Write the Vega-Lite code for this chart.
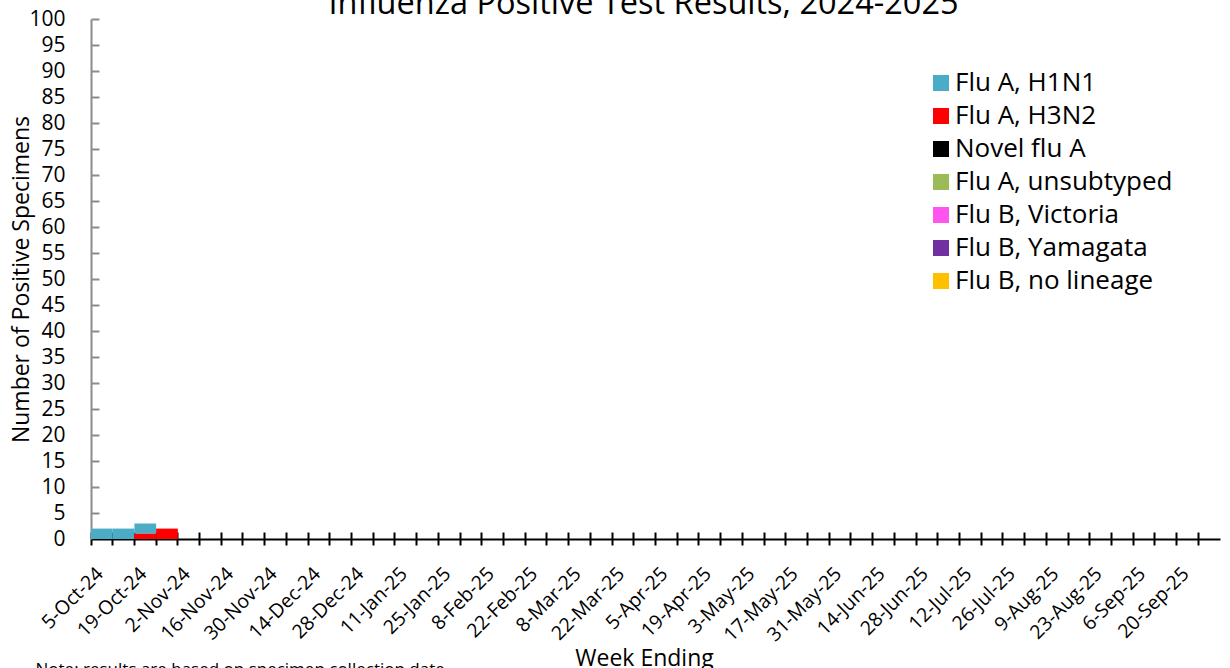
{
  "$schema": "https://vega.github.io/schema/vega-lite/v6.json",
  "autosize": "none",
  "width": 1129,
  "height": 520,
  "padding": {"left": 91, "top": 19, "right": 10, "bottom": 129},
  "background": "white",
  "title": {
    "text": "Influenza Positive Test Results, 2024-2025",
    "font": "Open Sans",
    "fontSize": 32.5,
    "fontWeight": "normal",
    "color": "black",
    "anchor": "middle",
    "frame": "group",
    "baseline": "alphabetic",
    "offset": -38,
    "dx": -12
  },
  "data": {
    "values": [
      {"week": "5-Oct-24", "type": "Flu A, H1N1", "count": 2},
      {"week": "12-Oct-24", "type": "Flu A, H1N1", "count": 2},
      {"week": "19-Oct-24", "type": "Flu A, H1N1", "count": 2},
      {"week": "19-Oct-24", "type": "Flu A, H3N2", "count": 1},
      {"week": "26-Oct-24", "type": "Flu A, H3N2", "count": 2}
    ]
  },
  "resolve": {"axis": {"x": "independent", "y": "independent"}},
  "layer": [
    {
      "mark": {"type": "bar"},
      "encoding": {
        "x": {
          "field": "week",
          "type": "ordinal",
          "sort": null,
          "scale": {
            "type": "band",
            "paddingInner": 0,
            "paddingOuter": 0,
            "domain": ["5-Oct-24","12-Oct-24","19-Oct-24","26-Oct-24","2-Nov-24","9-Nov-24","16-Nov-24","23-Nov-24","30-Nov-24","7-Dec-24","14-Dec-24","21-Dec-24","28-Dec-24","4-Jan-25","11-Jan-25","18-Jan-25","25-Jan-25","1-Feb-25","8-Feb-25","15-Feb-25","22-Feb-25","1-Mar-25","8-Mar-25","15-Mar-25","22-Mar-25","29-Mar-25","5-Apr-25","12-Apr-25","19-Apr-25","26-Apr-25","3-May-25","10-May-25","17-May-25","24-May-25","31-May-25","7-Jun-25","14-Jun-25","21-Jun-25","28-Jun-25","5-Jul-25","12-Jul-25","19-Jul-25","26-Jul-25","2-Aug-25","9-Aug-25","16-Aug-25","23-Aug-25","30-Aug-25","6-Sep-25","13-Sep-25","20-Sep-25","27-Sep-25"]
          },
          "axis": {
            "orient": "bottom",
            "bandPosition": 0,
            "domainColor": "black",
            "domainWidth": 2,
            "tickColor": "black",
            "tickWidth": 2,
            "tickSize": 6,
            "labelAngle": -45,
            "labelAlign": "right",
            "labelBaseline": "top",
            "labelOffset": -8,
            "labelPadding": 19,
            "labelOverlap": false,
            "labelExpr": "round(datum.index * 51) % 2 === 0 ? datum.label : ''",
            "labelFont": "Open Sans",
            "labelFontSize": 19.5,
            "labelColor": "black",
            "title": "Week Ending",
            "titleFont": "Open Sans",
            "titleFontSize": 23,
            "titleFontWeight": "normal",
            "titleColor": "black",
            "titleX": 553,
            "titleY": 126,
            "titleAlign": "center",
            "titleBaseline": "alphabetic"
          }
        },
        "y": {
          "field": "count",
          "type": "quantitative",
          "stack": "zero",
          "scale": {"domain": [0, 100], "nice": false},
          "axis": {
            "orient": "left",
            "values": [0,5,10,15,20,25,30,35,40,45,50,55,60,65,70,75,80,85,90,95,100],
            "grid": false,
            "domainColor": "#8c8c8c",
            "domainWidth": 2,
            "ticks": false,
            "labelPadding": 26,
            "labelOverlap": false,
            "labelFont": "Open Sans",
            "labelFontSize": 21,
            "labelColor": "black",
            "title": "Number of Positive Specimens",
            "titleFont": "Open Sans",
            "titleFontSize": 23,
            "titleFontWeight": "normal",
            "titleColor": "black",
            "titleX": -70,
            "titleBaseline": "middle"
          }
        },
        "color": {
          "field": "type",
          "type": "nominal",
          "scale": {
            "domain": ["Flu A, H1N1","Flu A, H3N2","Novel flu A","Flu A, unsubtyped","Flu B, Victoria","Flu B, Yamagata","Flu B, no lineage"],
            "range": ["#4bacc6","#ff0000","#000000","#9bbb59","#ff55ee","#7030a0","#ffc000"]
          },
          "legend": {
            "orient": "none",
            "legendX": 837,
            "legendY": 51,
            "title": null,
            "symbolType": "square",
            "symbolSize": 256,
            "symbolStrokeWidth": 0,
            "labelFont": "Open Sans",
            "labelFontSize": 26,
            "labelColor": "black",
            "labelOffset": 1,
            "rowPadding": 7,
            "labelLimit": 400
          }
        },
        "order": {"field": "type", "sort": "descending"}
      }
    },
    {
      "mark": {"type": "bar", "opacity": 0},
      "encoding": {
        "x": {
          "field": "week",
          "type": "ordinal",
          "sort": null,
          "axis": {
            "orient": "bottom",
            "bandPosition": 0,
            "domain": false,
            "labels": false,
            "tickColor": "black",
            "tickWidth": 2,
            "tickSize": -7,
            "title": "Note: results are based on specimen collection date",
            "titleFont": "Open Sans",
            "titleFontSize": 17,
            "titleFontWeight": "normal",
            "titleColor": "black",
            "titleX": -56,
            "titleY": 135,
            "titleAlign": "left",
            "titleAnchor": "start",
            "titleBaseline": "alphabetic"
          }
        },
        "y": {
          "field": "count",
          "type": "quantitative",
          "stack": "zero",
          "axis": {
            "orient": "left",
            "values": [5,10,15,20,25,30,35,40,45,50,55,60,65,70,75,80,85,90,95,100],
            "grid": false,
            "domain": false,
            "labels": false,
            "tickColor": "#8c8c8c",
            "tickWidth": 2,
            "tickSize": -8,
            "title": null
          }
        }
      }
    }
  ],
  "config": {
    "view": {"stroke": null},
    "font": "Open Sans"
  }
}
